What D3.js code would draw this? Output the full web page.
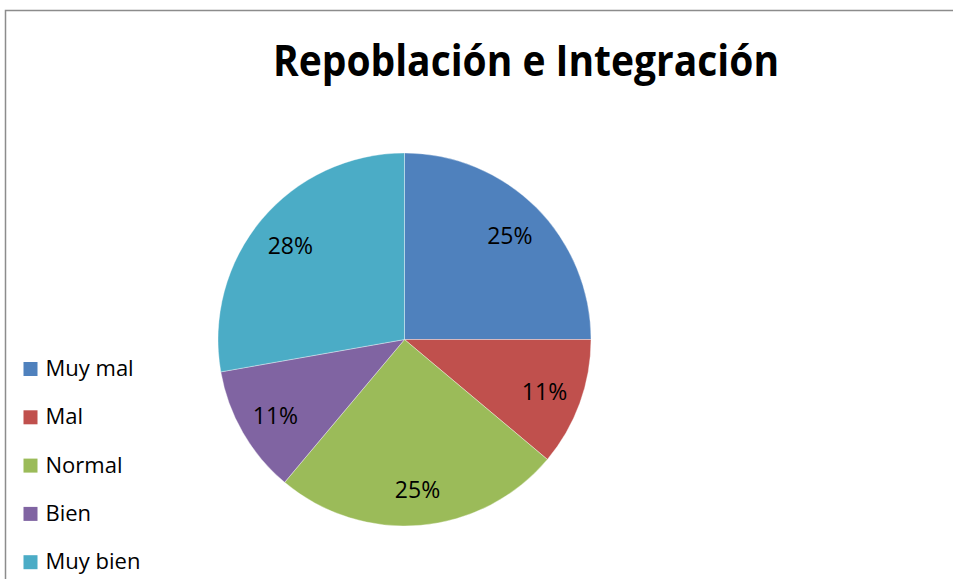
<!DOCTYPE html>
<html>
<head>
<meta charset="utf-8">
<script src="https://cdn.jsdelivr.net/npm/d3@7"></script>
<style>
  body { margin: 0; background: #fff; }
  text { font-family: "Open Sans", "Noto Sans", sans-serif; fill: #000; }
</style>
</head>
<body>
<div id="chart"></div>
<script>
// data
var categories = ["Muy mal", "Mal", "Normal", "Bien", "Muy bien"];
var counts = [9, 4, 9, 4, 10];
var colors = ["#4F81BD", "#C0504D", "#9BBB59", "#8064A2", "#4BACC6"];
var titleText = "Repoblación e Integración";

var svgWidth = 953;
var svgHeight = 579;

var svg = d3.select("#chart")
    .append("svg")
    .attr("width", svgWidth)
    .attr("height", svgHeight);

// chart frame (cut off at right and bottom)
svg.append("rect")
    .attr("x", 5.5)
    .attr("y", 10.5)
    .attr("width", 1000)
    .attr("height", 1000)
    .attr("fill", "none")
    .attr("stroke", "#8c8c8c")
    .attr("stroke-width", 1.5);

svg.append("text")
    .attr("x", 273)
    .attr("y", 76)
    .attr("textLength", 506)
    .attr("lengthAdjust", "spacingAndGlyphs")
    .style("font-size", "43px")
    .style("font-weight", "bold")
    .text(titleText);

var cx = 404.5, cy = 339.5, radius = 186.5;
var total = d3.sum(counts);

var color = d3.scaleOrdinal().domain(categories).range(colors);

var pie = d3.pie()
    .sort(null)
    .value(d => d.value);

var pieData = pie(categories.map((c, i) => ({ name: c, value: counts[i] })));

var arc = d3.arc().innerRadius(0).outerRadius(radius);
var labelArc = d3.arc().innerRadius(149).outerRadius(149);

var pieGroup = svg.append("g")
    .attr("transform", `translate(${cx}, ${cy})`);

pieGroup.selectAll("path")
    .data(pieData)
    .enter()
    .append("path")
    .attr("d", arc)
    .attr("fill", d => color(d.data.name))
    .attr("stroke", "#ffffff")
    .attr("stroke-opacity", 0.6)
    .attr("stroke-width", 0.6);

pieGroup.selectAll(".pct")
    .data(pieData)
    .enter()
    .append("text")
    .attr("class", "pct")
    .attr("x", d => labelArc.centroid(d)[0])
    .attr("y", d => labelArc.centroid(d)[1] + 10)
    .attr("text-anchor", "middle")
    .style("font-size", "23px")
    .text(d => Math.round(d.value / total * 100) + "%");

// legend
var legend = svg.append("g")
    .attr("transform", "translate(23.5, 362)");

var rows = legend.selectAll("g")
    .data(categories)
    .enter()
    .append("g")
    .attr("transform", (d, i) => `translate(0, ${i * 48.3})`);

rows.append("rect")
    .attr("width", 14)
    .attr("height", 14)
    .attr("fill", d => color(d));

rows.append("text")
    .attr("x", 22)
    .attr("y", 14)
    .style("font-size", "22px")
    .text(d => d);
</script>
</body>
</html>
